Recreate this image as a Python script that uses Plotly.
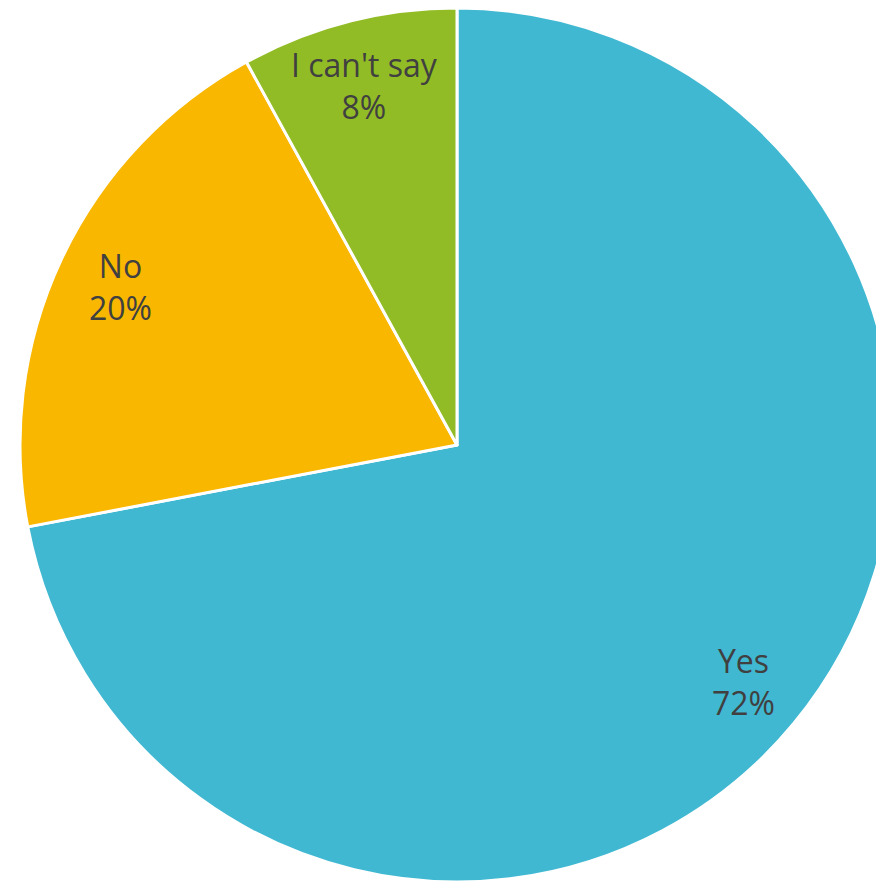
import math
import plotly.graph_objects as go

labels = ["Yes", "No", "I can't say"]
values = [72, 20, 8]
colors = ["#41B8D2", "#F9B700", "#92BC26"]

W, H = 900, 885
R = 437
CX, CY = 449, 437  # pie centre in plot pixels

fig = go.Figure(go.Pie(
    labels=labels,
    values=values,
    sort=False,
    direction="clockwise",
    rotation=0,
    marker=dict(colors=colors, line=dict(color="white", width=3)),
    textinfo="none",
    hoverinfo="skip",
    domain=dict(x=[(CX - R) / W, (CX + R) / W], y=[(H - CY - R) / H, (H - CY + R) / H]),
))

# label positions computed from the slice mid-angles
total = sum(values)
cum = 0
annotations = []
for lab, v in zip(labels, values):
    mid = (cum + v / 2) / total * 2 * math.pi
    cum += v
    r = 0.85 * R
    px = CX + r * math.sin(mid)
    py = CY - r * math.cos(mid)
    annotations.append(dict(
        x=px / W, y=1 - py / H, xref="paper", yref="paper",
        text=f"{lab}<br>{round(v / total * 100)}%",
        showarrow=False, xanchor="center", yanchor="middle",
        font=dict(family="Open Sans", size=32, color="#404040"),
    ))

fig.update_layout(
    width=W, height=H,
    margin=dict(l=0, r=0, t=0, b=0),
    showlegend=False,
    paper_bgcolor="white",
    annotations=annotations,
)
fig.write_html("out.html")
